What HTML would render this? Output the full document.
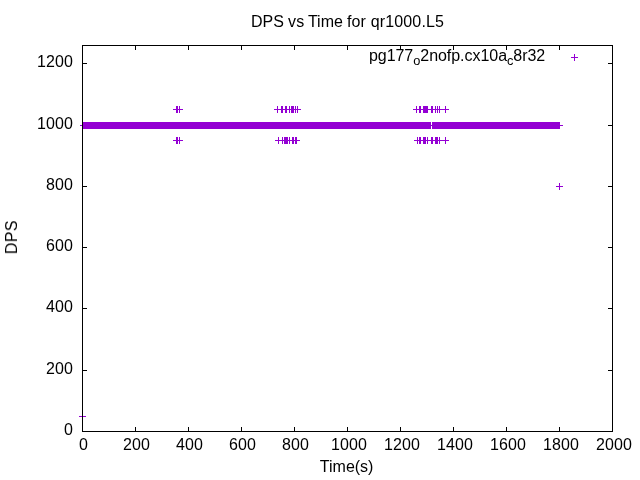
<!DOCTYPE html>
<html><head><meta charset="utf-8"><title>DPS vs Time</title>
<style>
html,body{margin:0;padding:0;background:#fff;}
body{width:640px;height:480px;overflow:hidden;}
svg{display:block;}
text{font-family:"Liberation Sans",sans-serif;font-size:16px;fill:#000;}
</style></head><body>
<svg width="640" height="480" viewBox="0 0 640 480">
<rect x="0" y="0" width="640" height="480" fill="#fff"/>
<g shape-rendering="crispEdges">
<rect x="82" y="427" width="1" height="4" fill="#000"/>
<rect x="82" y="46" width="1" height="4" fill="#000"/>
<rect x="135" y="427" width="1" height="4" fill="#000"/>
<rect x="135" y="46" width="1" height="4" fill="#000"/>
<rect x="188" y="427" width="1" height="4" fill="#000"/>
<rect x="188" y="46" width="1" height="4" fill="#000"/>
<rect x="241" y="427" width="1" height="4" fill="#000"/>
<rect x="241" y="46" width="1" height="4" fill="#000"/>
<rect x="294" y="427" width="1" height="4" fill="#000"/>
<rect x="294" y="46" width="1" height="4" fill="#000"/>
<rect x="347" y="427" width="1" height="4" fill="#000"/>
<rect x="347" y="46" width="1" height="4" fill="#000"/>
<rect x="400" y="427" width="1" height="4" fill="#000"/>
<rect x="400" y="46" width="1" height="4" fill="#000"/>
<rect x="453" y="427" width="1" height="4" fill="#000"/>
<rect x="453" y="46" width="1" height="4" fill="#000"/>
<rect x="506" y="427" width="1" height="4" fill="#000"/>
<rect x="506" y="46" width="1" height="4" fill="#000"/>
<rect x="559" y="427" width="1" height="4" fill="#000"/>
<rect x="559" y="46" width="1" height="4" fill="#000"/>
<rect x="612" y="427" width="1" height="4" fill="#000"/>
<rect x="612" y="46" width="1" height="4" fill="#000"/>
<rect x="83" y="431" width="4" height="1" fill="#000"/>
<rect x="608" y="431" width="4" height="1" fill="#000"/>
<rect x="83" y="370" width="4" height="1" fill="#000"/>
<rect x="608" y="370" width="4" height="1" fill="#000"/>
<rect x="83" y="308" width="4" height="1" fill="#000"/>
<rect x="608" y="308" width="4" height="1" fill="#000"/>
<rect x="83" y="247" width="4" height="1" fill="#000"/>
<rect x="608" y="247" width="4" height="1" fill="#000"/>
<rect x="83" y="186" width="4" height="1" fill="#000"/>
<rect x="608" y="186" width="4" height="1" fill="#000"/>
<rect x="83" y="125" width="4" height="1" fill="#000"/>
<rect x="608" y="125" width="4" height="1" fill="#000"/>
<rect x="83" y="63" width="4" height="1" fill="#000"/>
<rect x="608" y="63" width="4" height="1" fill="#000"/>
<rect x="83" y="122" width="477" height="7" fill="#9400d3"/>
<rect x="80" y="125" width="483" height="1" fill="#9400d3"/>
<rect x="431" y="122" width="1" height="3" fill="#fff"/>
<rect x="431" y="126" width="1" height="3" fill="#fff"/>
<rect x="173" y="109" width="7" height="1" fill="#9400d3"/>
<rect x="176" y="106" width="1" height="7" fill="#9400d3"/>
<rect x="174" y="109" width="7" height="1" fill="#9400d3"/>
<rect x="177" y="106" width="1" height="7" fill="#9400d3"/>
<rect x="176" y="109" width="7" height="1" fill="#9400d3"/>
<rect x="179" y="106" width="1" height="7" fill="#9400d3"/>
<rect x="274" y="109" width="7" height="1" fill="#9400d3"/>
<rect x="277" y="106" width="1" height="7" fill="#9400d3"/>
<rect x="278" y="109" width="7" height="1" fill="#9400d3"/>
<rect x="281" y="106" width="1" height="7" fill="#9400d3"/>
<rect x="279" y="109" width="7" height="1" fill="#9400d3"/>
<rect x="282" y="106" width="1" height="7" fill="#9400d3"/>
<rect x="282" y="109" width="7" height="1" fill="#9400d3"/>
<rect x="285" y="106" width="1" height="7" fill="#9400d3"/>
<rect x="283" y="109" width="7" height="1" fill="#9400d3"/>
<rect x="286" y="106" width="1" height="7" fill="#9400d3"/>
<rect x="286" y="109" width="7" height="1" fill="#9400d3"/>
<rect x="289" y="106" width="1" height="7" fill="#9400d3"/>
<rect x="288" y="109" width="7" height="1" fill="#9400d3"/>
<rect x="291" y="106" width="1" height="7" fill="#9400d3"/>
<rect x="289" y="109" width="7" height="1" fill="#9400d3"/>
<rect x="292" y="106" width="1" height="7" fill="#9400d3"/>
<rect x="290" y="109" width="7" height="1" fill="#9400d3"/>
<rect x="293" y="106" width="1" height="7" fill="#9400d3"/>
<rect x="292" y="109" width="7" height="1" fill="#9400d3"/>
<rect x="295" y="106" width="1" height="7" fill="#9400d3"/>
<rect x="294" y="109" width="7" height="1" fill="#9400d3"/>
<rect x="297" y="106" width="1" height="7" fill="#9400d3"/>
<rect x="413" y="109" width="7" height="1" fill="#9400d3"/>
<rect x="416" y="106" width="1" height="7" fill="#9400d3"/>
<rect x="416" y="109" width="7" height="1" fill="#9400d3"/>
<rect x="419" y="106" width="1" height="7" fill="#9400d3"/>
<rect x="417" y="109" width="7" height="1" fill="#9400d3"/>
<rect x="420" y="106" width="1" height="7" fill="#9400d3"/>
<rect x="420" y="109" width="7" height="1" fill="#9400d3"/>
<rect x="423" y="106" width="1" height="7" fill="#9400d3"/>
<rect x="421" y="109" width="7" height="1" fill="#9400d3"/>
<rect x="424" y="106" width="1" height="7" fill="#9400d3"/>
<rect x="422" y="109" width="7" height="1" fill="#9400d3"/>
<rect x="425" y="106" width="1" height="7" fill="#9400d3"/>
<rect x="423" y="109" width="7" height="1" fill="#9400d3"/>
<rect x="426" y="106" width="1" height="7" fill="#9400d3"/>
<rect x="424" y="109" width="7" height="1" fill="#9400d3"/>
<rect x="427" y="106" width="1" height="7" fill="#9400d3"/>
<rect x="428" y="109" width="7" height="1" fill="#9400d3"/>
<rect x="431" y="106" width="1" height="7" fill="#9400d3"/>
<rect x="429" y="109" width="7" height="1" fill="#9400d3"/>
<rect x="432" y="106" width="1" height="7" fill="#9400d3"/>
<rect x="432" y="109" width="7" height="1" fill="#9400d3"/>
<rect x="435" y="106" width="1" height="7" fill="#9400d3"/>
<rect x="434" y="109" width="7" height="1" fill="#9400d3"/>
<rect x="437" y="106" width="1" height="7" fill="#9400d3"/>
<rect x="436" y="109" width="7" height="1" fill="#9400d3"/>
<rect x="439" y="106" width="1" height="7" fill="#9400d3"/>
<rect x="442" y="109" width="7" height="1" fill="#9400d3"/>
<rect x="445" y="106" width="1" height="7" fill="#9400d3"/>
<rect x="173" y="140" width="7" height="1" fill="#9400d3"/>
<rect x="176" y="137" width="1" height="7" fill="#9400d3"/>
<rect x="174" y="140" width="7" height="1" fill="#9400d3"/>
<rect x="177" y="137" width="1" height="7" fill="#9400d3"/>
<rect x="176" y="140" width="7" height="1" fill="#9400d3"/>
<rect x="179" y="137" width="1" height="7" fill="#9400d3"/>
<rect x="275" y="140" width="7" height="1" fill="#9400d3"/>
<rect x="278" y="137" width="1" height="7" fill="#9400d3"/>
<rect x="279" y="140" width="7" height="1" fill="#9400d3"/>
<rect x="282" y="137" width="1" height="7" fill="#9400d3"/>
<rect x="281" y="140" width="7" height="1" fill="#9400d3"/>
<rect x="284" y="137" width="1" height="7" fill="#9400d3"/>
<rect x="282" y="140" width="7" height="1" fill="#9400d3"/>
<rect x="285" y="137" width="1" height="7" fill="#9400d3"/>
<rect x="283" y="140" width="7" height="1" fill="#9400d3"/>
<rect x="286" y="137" width="1" height="7" fill="#9400d3"/>
<rect x="284" y="140" width="7" height="1" fill="#9400d3"/>
<rect x="287" y="137" width="1" height="7" fill="#9400d3"/>
<rect x="286" y="140" width="7" height="1" fill="#9400d3"/>
<rect x="289" y="137" width="1" height="7" fill="#9400d3"/>
<rect x="289" y="140" width="7" height="1" fill="#9400d3"/>
<rect x="292" y="137" width="1" height="7" fill="#9400d3"/>
<rect x="290" y="140" width="7" height="1" fill="#9400d3"/>
<rect x="293" y="137" width="1" height="7" fill="#9400d3"/>
<rect x="292" y="140" width="7" height="1" fill="#9400d3"/>
<rect x="295" y="137" width="1" height="7" fill="#9400d3"/>
<rect x="293" y="140" width="7" height="1" fill="#9400d3"/>
<rect x="296" y="137" width="1" height="7" fill="#9400d3"/>
<rect x="414" y="140" width="7" height="1" fill="#9400d3"/>
<rect x="417" y="137" width="1" height="7" fill="#9400d3"/>
<rect x="416" y="140" width="7" height="1" fill="#9400d3"/>
<rect x="419" y="137" width="1" height="7" fill="#9400d3"/>
<rect x="417" y="140" width="7" height="1" fill="#9400d3"/>
<rect x="420" y="137" width="1" height="7" fill="#9400d3"/>
<rect x="420" y="140" width="7" height="1" fill="#9400d3"/>
<rect x="423" y="137" width="1" height="7" fill="#9400d3"/>
<rect x="421" y="140" width="7" height="1" fill="#9400d3"/>
<rect x="424" y="137" width="1" height="7" fill="#9400d3"/>
<rect x="422" y="140" width="7" height="1" fill="#9400d3"/>
<rect x="425" y="137" width="1" height="7" fill="#9400d3"/>
<rect x="424" y="140" width="7" height="1" fill="#9400d3"/>
<rect x="427" y="137" width="1" height="7" fill="#9400d3"/>
<rect x="428" y="140" width="7" height="1" fill="#9400d3"/>
<rect x="431" y="137" width="1" height="7" fill="#9400d3"/>
<rect x="429" y="140" width="7" height="1" fill="#9400d3"/>
<rect x="432" y="137" width="1" height="7" fill="#9400d3"/>
<rect x="432" y="140" width="7" height="1" fill="#9400d3"/>
<rect x="435" y="137" width="1" height="7" fill="#9400d3"/>
<rect x="433" y="140" width="7" height="1" fill="#9400d3"/>
<rect x="436" y="137" width="1" height="7" fill="#9400d3"/>
<rect x="434" y="140" width="7" height="1" fill="#9400d3"/>
<rect x="437" y="137" width="1" height="7" fill="#9400d3"/>
<rect x="436" y="140" width="7" height="1" fill="#9400d3"/>
<rect x="439" y="137" width="1" height="7" fill="#9400d3"/>
<rect x="442" y="140" width="7" height="1" fill="#9400d3"/>
<rect x="445" y="137" width="1" height="7" fill="#9400d3"/>
<rect x="556" y="186" width="7" height="1" fill="#9400d3"/>
<rect x="559" y="183" width="1" height="7" fill="#9400d3"/>
<rect x="79" y="416" width="7" height="1" fill="#9400d3"/>
<rect x="82" y="413" width="1" height="7" fill="#9400d3"/>
<rect x="571" y="57" width="7" height="1" fill="#9400d3"/>
<rect x="574" y="54" width="1" height="7" fill="#9400d3"/>
<rect x="82" y="45" width="531" height="1" fill="#000"/>
<rect x="82" y="431" width="531" height="1" fill="#000"/>
<rect x="82" y="45" width="1" height="387" fill="#000"/>
<rect x="612" y="45" width="1" height="387" fill="#000"/>
</g>
<g style="will-change:transform;mix-blend-mode:multiply">
<text x="83.55" y="450" text-anchor="middle" letter-spacing="0.1">0</text>
<text x="136.50" y="450" text-anchor="middle" letter-spacing="0.1">200</text>
<text x="189.50" y="450" text-anchor="middle" letter-spacing="0.1">400</text>
<text x="242.50" y="450" text-anchor="middle" letter-spacing="0.1">600</text>
<text x="295.50" y="450" text-anchor="middle" letter-spacing="0.1">800</text>
<text x="348.95" y="450" text-anchor="middle" letter-spacing="0.1">1000</text>
<text x="401.95" y="450" text-anchor="middle" letter-spacing="0.1">1200</text>
<text x="454.95" y="450" text-anchor="middle" letter-spacing="0.1">1400</text>
<text x="507.95" y="450" text-anchor="middle" letter-spacing="0.1">1600</text>
<text x="560.95" y="450" text-anchor="middle" letter-spacing="0.1">1800</text>
<text x="613.95" y="450" text-anchor="middle" letter-spacing="0.1">2000</text>
<text x="73.0" y="434.9" text-anchor="end" letter-spacing="0.1">0</text>
<text x="73.1" y="373.9" text-anchor="end" letter-spacing="0.1">200</text>
<text x="73.1" y="311.9" text-anchor="end" letter-spacing="0.1">400</text>
<text x="73.1" y="250.9" text-anchor="end" letter-spacing="0.1">600</text>
<text x="73.1" y="189.9" text-anchor="end" letter-spacing="0.1">800</text>
<text x="73.1" y="128.9" text-anchor="end" letter-spacing="0.1">1000</text>
<text x="73.1" y="66.9" text-anchor="end" letter-spacing="0.1">1200</text>
<text y="27" letter-spacing="0.045"><tspan x="250.9">DPS</tspan><tspan x="288.1">vs</tspan><tspan x="307.9">Time</tspan><tspan x="347.1">for</tspan><tspan x="370.7" letter-spacing="0.145">qr1000.L5</tspan></text>
<text x="346.65" y="471.7" text-anchor="middle">Time(s)</text>
<text transform="translate(17,237.2) rotate(-90)" text-anchor="middle" letter-spacing="0.3">DPS</text>
<text x="545.2" y="60.7" text-anchor="end" letter-spacing="-0.045">pg177<tspan font-size="12.8" dy="4">o</tspan><tspan dy="-4">2nofp.cx10a</tspan><tspan font-size="12.8" dy="4">c</tspan><tspan dy="-4">8r32</tspan></text>
</g>
</svg>
</body></html>
